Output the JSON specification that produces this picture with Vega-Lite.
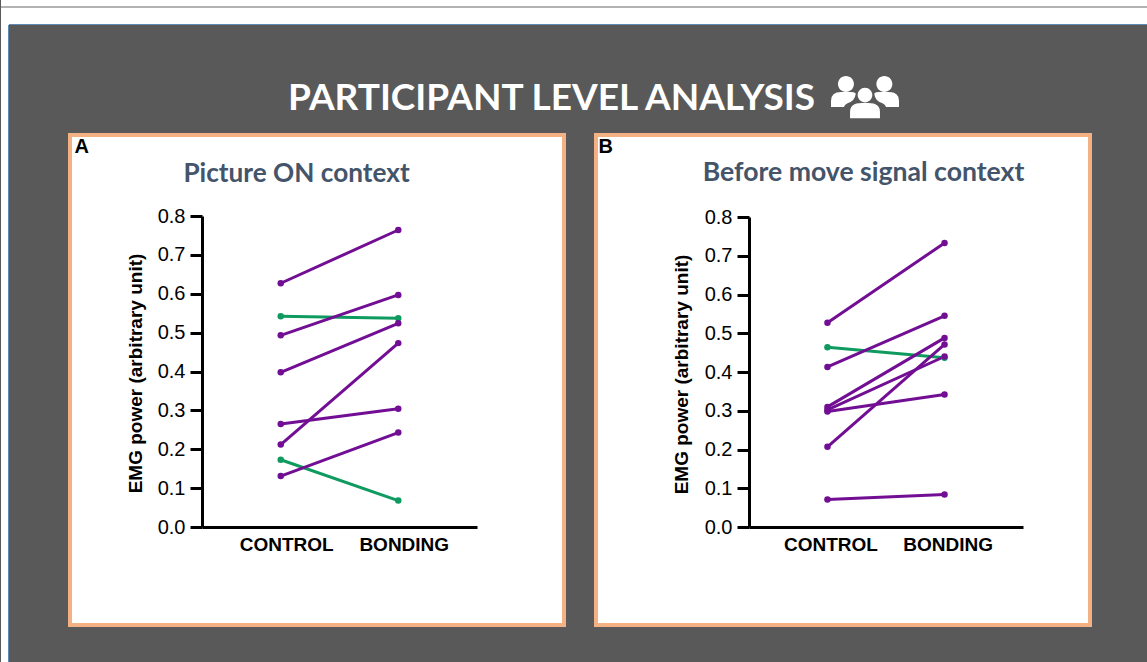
{
"$schema":"https://vega.github.io/schema/vega-lite/v6.json",
"background":"#595959","padding":0,"bounds":"flush","spacing":0,
"config":{"view":{"stroke":null},"concat":{"spacing":0}},
"datasets":{
"panelA":[
{"participant":"g1","condition":"CONTROL","emg":0.542,"group":"decrease"},{"participant":"g1","condition":"BONDING","emg":0.537,"group":"decrease"},
{"participant":"g2","condition":"CONTROL","emg":0.173,"group":"decrease"},{"participant":"g2","condition":"BONDING","emg":0.068,"group":"decrease"},
{"participant":"p1","condition":"CONTROL","emg":0.627,"group":"increase"},{"participant":"p1","condition":"BONDING","emg":0.764,"group":"increase"},
{"participant":"p2","condition":"CONTROL","emg":0.493,"group":"increase"},{"participant":"p2","condition":"BONDING","emg":0.597,"group":"increase"},
{"participant":"p3","condition":"CONTROL","emg":0.398,"group":"increase"},{"participant":"p3","condition":"BONDING","emg":0.524,"group":"increase"},
{"participant":"p4","condition":"CONTROL","emg":0.265,"group":"increase"},{"participant":"p4","condition":"BONDING","emg":0.304,"group":"increase"},
{"participant":"p5","condition":"CONTROL","emg":0.212,"group":"increase"},{"participant":"p5","condition":"BONDING","emg":0.473,"group":"increase"},
{"participant":"p6","condition":"CONTROL","emg":0.131,"group":"increase"},{"participant":"p6","condition":"BONDING","emg":0.243,"group":"increase"}],
"panelB":[
{"participant":"g1","condition":"CONTROL","emg":0.464,"group":"decrease"},{"participant":"g1","condition":"BONDING","emg":0.437,"group":"decrease"},
{"participant":"p1","condition":"CONTROL","emg":0.527,"group":"increase"},{"participant":"p1","condition":"BONDING","emg":0.733,"group":"increase"},
{"participant":"p2","condition":"CONTROL","emg":0.413,"group":"increase"},{"participant":"p2","condition":"BONDING","emg":0.545,"group":"increase"},
{"participant":"p3","condition":"CONTROL","emg":0.31,"group":"increase"},{"participant":"p3","condition":"BONDING","emg":0.488,"group":"increase"},
{"participant":"p4","condition":"CONTROL","emg":0.302,"group":"increase"},{"participant":"p4","condition":"BONDING","emg":0.44,"group":"increase"},
{"participant":"p5","condition":"CONTROL","emg":0.298,"group":"increase"},{"participant":"p5","condition":"BONDING","emg":0.342,"group":"increase"},
{"participant":"p6","condition":"CONTROL","emg":0.207,"group":"increase"},{"participant":"p6","condition":"BONDING","emg":0.471,"group":"increase"},
{"participant":"p7","condition":"CONTROL","emg":0.071,"group":"increase"},{"participant":"p7","condition":"BONDING","emg":0.084,"group":"increase"}]
},
"vconcat":[
{"width":1147,"height":25,"view":{"fill":"white"},"layer":[
 {"data":{"values":[{"pos":7}]},"mark":{"type":"rule","color":"#666666","strokeWidth":1.2},"encoding":{"y":{"field":"pos","type":"quantitative","axis":null,"scale":{"domain":[0,25],"range":[0,25]}}}},
 {"data":{"values":[{"pos":24.5,"from":8,"to":1147}]},"mark":{"type":"rule","color":"#5f8ab4","strokeWidth":1},"encoding":{"y":{"field":"pos","type":"quantitative","axis":null,"scale":{"domain":[0,25],"range":[0,25]}},"x":{"field":"from","type":"quantitative","axis":null,"scale":{"domain":[0,1147],"range":[0,1147]}},"x2":{"field":"to"}}}
]},
{"bounds":"flush","spacing":0,"hconcat":[
 {"width":8,"height":637,"view":{"fill":"white"},"data":{"values":[{"pos":7.5}]},"mark":{"type":"rule","color":"#5f8ab4","strokeWidth":1},"encoding":{"x":{"field":"pos","type":"quantitative","axis":null,"scale":{"domain":[0,8],"range":[0,8]}}}},
 {"bounds":"flush","spacing":0,"vconcat":[
  {"width":1139,"height":110,
   "title":{"text":"PARTICIPANT LEVEL ANALYSIS","color":"white","font":"Lato","fontWeight":"bold","fontSize":37,"anchor":"middle","baseline":"alphabetic","offset":-122,"dx":-27},
   "data":{"values":[{"px":856,"py":72.5}]},
   "mark":{"type":"point","filled":true,"color":"white","opacity":1,"size":4624,"shape":"M-.795 -.4a.235 .235 0 1 0 .47 0a.235 .235 0 1 0 -.47 0ZM.335 -.4a.235 .235 0 1 0 .47 0a.235 .235 0 1 0 -.47 0ZM-.215 -.07a.215 .215 0 1 0 .43 0a.215 .215 0 1 0 -.43 0ZM-.44 .61L-.44 .42Q-.44 .16 -.1 .16L.1 .16Q.44 .16 .44 .42L.44 .61ZM-1 .28L-1 .1Q-1 -.16 -.7 -.16L-.42 -.16Q-.32 -.16 -.27 -.12Q-.3 .1 -.5 .16Q-.6 .2 -.62 .28ZM1 .28L1 .1Q1 -.16 .7 -.16L.42 -.16Q.32 -.16 .27 -.12Q.3 .1 .5 .16Q.6 .2 .62 .28Z"},
   "encoding":{"x":{"field":"px","type":"quantitative","axis":null,"scale":{"domain":[0,1139],"range":[0,1139]}},"y":{"field":"py","type":"quantitative","axis":null,"scale":{"domain":[0,110],"range":[0,110]}}}},
  {"bounds":"flush","spacing":32,"hconcat":[
   {"width":29,"height":490,"data":{"values":[]},"mark":{"type":"rule"},"encoding":{}},
   {"width":494,"height":490,"view":{"fill":"white","stroke":"#F4B183","strokeWidth":4},
    "title":{"text":"Picture ON context","color":"#44546A","font":"Lato","fontWeight":"bold","fontSize":26.2,"anchor":"middle","baseline":"alphabetic","offset":-73,"dx":-20.5},
    "data":{"name":"panelA"},
    "encoding":{
     "x":{"field":"condition","type":"nominal","sort":["CONTROL","BONDING"],"scale":{"type":"point","range":[132,407],"padding":0.67,"align":0.5},
      "axis":{"orient":"bottom","offset":-98,"labelAngle":0,"ticks":false,"domainColor":"black","domainWidth":3,"labelFont":"Liberation Sans","labelFontWeight":"bold","labelFontSize":19,"labelColor":"black","labelPadding":8,"labelOffset":5.5,"title":"A","titleFont":"Liberation Sans","titleFontWeight":"bold","titleFontSize":20,"titleColor":"black","titleAlign":"left","titleBaseline":"alphabetic","titleAnchor":null,"titleX":4,"titleY":-375,"grid":false}},
     "y":{"field":"emg","type":"quantitative","scale":{"domain":[0,0.8],"range":[392,81],"nice":false,"zero":false},
      "axis":{"orient":"left","offset":-132,"values":[0,0.1,0.2,0.3,0.4,0.5,0.6,0.7,0.8],"format":".1f","grid":false,"domainColor":"black","domainWidth":3,"tickColor":"black","tickWidth":3,"tickSize":12,"labelFont":"Liberation Sans","labelFontSize":20,"labelColor":"black","labelPadding":5,"title":"EMG power (arbitrary unit)","titleFont":"Liberation Sans","titleFontWeight":"bold","titleFontSize":19,"titleColor":"black","titleAnchor":null,"titleX":-57,"titleY":238,"titleAngle":-90}},
     "color":{"field":"group","type":"nominal","legend":null,"scale":{"domain":["increase","decrease"],"range":["#720E93","#0F9A60"]}},
     "detail":{"field":"participant"}},
    "layer":[{"mark":{"type":"line","strokeWidth":3}},{"mark":{"type":"point","filled":true,"opacity":1,"size":42}}]},
   {"width":494,"height":490,"view":{"fill":"white","stroke":"#F4B183","strokeWidth":4},
    "title":{"text":"Before move signal context","color":"#44546A","font":"Lato","fontWeight":"bold","fontSize":26.6,"anchor":"middle","baseline":"alphabetic","offset":-73,"dx":20.5},
    "data":{"name":"panelB"},
    "encoding":{
     "x":{"field":"condition","type":"nominal","sort":["CONTROL","BONDING"],"scale":{"type":"point","range":[153,427],"padding":0.67,"align":0.5},
      "axis":{"orient":"bottom","offset":-98,"labelAngle":0,"ticks":false,"domainColor":"black","domainWidth":3,"labelFont":"Liberation Sans","labelFontWeight":"bold","labelFontSize":19,"labelColor":"black","labelPadding":8,"labelOffset":3,"title":"B","titleFont":"Liberation Sans","titleFontWeight":"bold","titleFontSize":20,"titleColor":"black","titleAlign":"left","titleBaseline":"alphabetic","titleAnchor":null,"titleX":2,"titleY":-375,"grid":false}},
     "y":{"field":"emg","type":"quantitative","scale":{"domain":[0,0.8],"range":[392,82],"nice":false,"zero":false},
      "axis":{"orient":"left","offset":-153,"values":[0,0.1,0.2,0.3,0.4,0.5,0.6,0.7,0.8],"format":".1f","grid":false,"domainColor":"black","domainWidth":3,"tickColor":"black","tickWidth":3,"tickSize":12,"labelFont":"Liberation Sans","labelFontSize":20,"labelColor":"black","labelPadding":5,"title":"EMG power (arbitrary unit)","titleFont":"Liberation Sans","titleFontWeight":"bold","titleFontSize":19,"titleColor":"black","titleAnchor":null,"titleX":-58,"titleY":239,"titleAngle":-90}},
     "color":{"field":"group","type":"nominal","legend":null,"scale":{"domain":["increase","decrease"],"range":["#720E93","#0F9A60"]}},
     "detail":{"field":"participant"}},
    "layer":[{"mark":{"type":"line","strokeWidth":3}},{"mark":{"type":"point","filled":true,"opacity":1,"size":42}}]}
  ]}
 ]}
]}
]}
